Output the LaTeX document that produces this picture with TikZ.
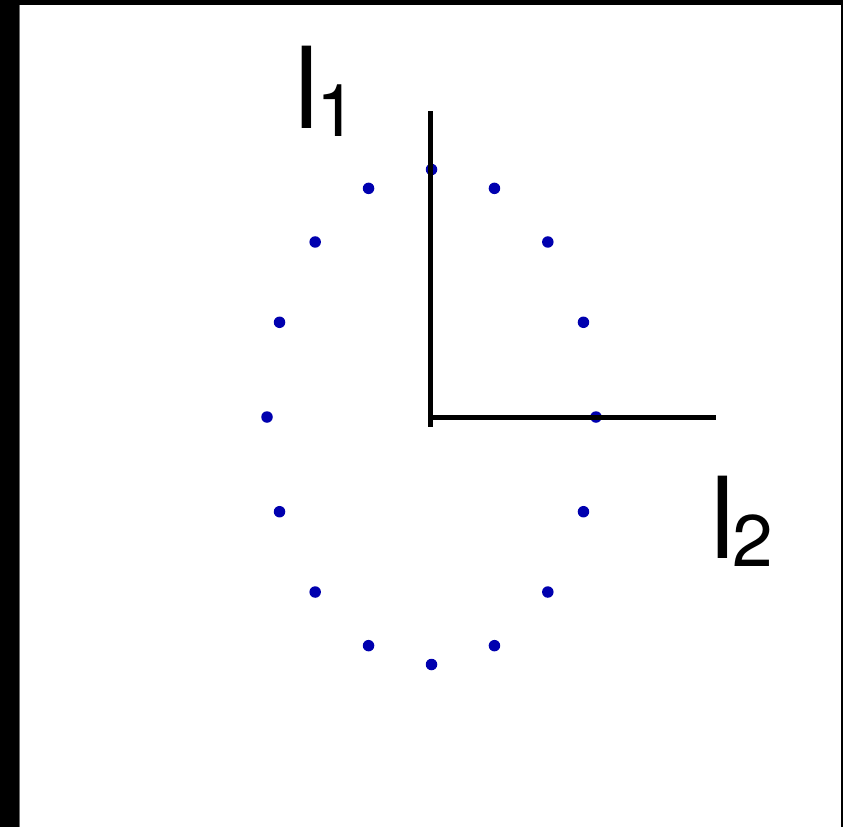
\documentclass[tikz,border=0pt]{standalone}
\usepackage{fontspec}
\setmainfont{TeX Gyre Heros}
\definecolor{dotblue}{RGB}{0,0,175}
\definecolor{edgegray}{RGB}{110,110,110}
\tikzset{
  dot/.style={circle, fill=dotblue, draw=none, inner sep=0pt, minimum size=11.5pt},
  axis/.style={line width=5pt, black},
  lbl/.style={anchor=base west, inner sep=0pt, font=\fontsize{113}{130}\selectfont},
}
\newcommand{\subdig}[1]{\kern-3pt\raisebox{-8pt}{\fontsize{73}{90}\selectfont #1}}
\begin{document}
\begin{tikzpicture}[x=1pt, y=-1pt]
\useasboundingbox (0,0) rectangle (843,827);
\fill[white] (0,0) rectangle (843,827);
% frame
\fill[black] (0,0) rectangle (19,827);
\fill[edgegray] (19,5) rectangle (20,827);
\fill[black] (0,0) rectangle (843,5);
\fill[black] (841,0) rectangle (843,827);
% dots on ellipse
\foreach \i in {0,...,15}
  \node[dot] (p\i) at ({431.5+164.5*sin(22.5*\i)}, {417-247.5*cos(22.5*\i)}) {};
% axes
\coordinate (o) at (430,417);
\coordinate (vtop) at (430,111);
\coordinate (vbot) at (430,427);
\coordinate (hend) at (716,417);
\draw[axis] (vtop) -- (vbot);
\draw[axis] (o) -- (hend);
% labels
\node[lbl] (l1) at (294.5,128) {l\subdig{1}};
\node[lbl] (l2) at (710.5,558) {l\subdig{2}};
\end{tikzpicture}
\end{document}
